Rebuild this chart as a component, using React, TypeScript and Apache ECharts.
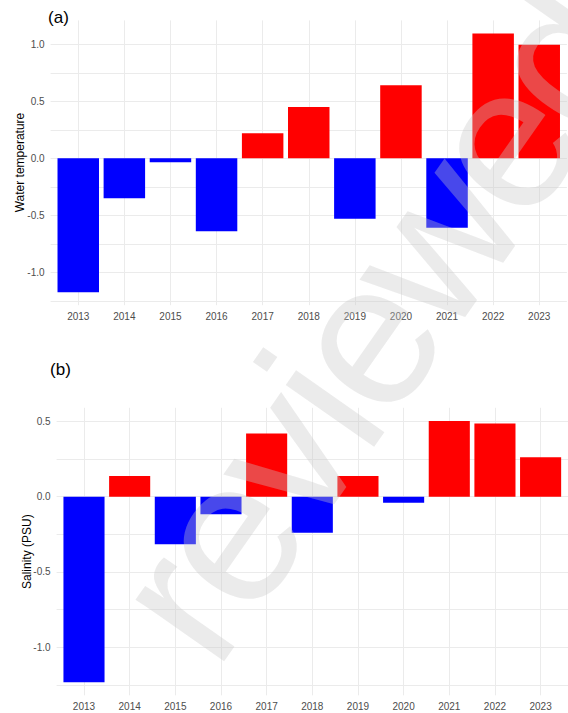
import React, { useEffect, useRef } from "react";
import * as echarts from "echarts";

const years = ["2013", "2014", "2015", "2016", "2017", "2018", "2019", "2020", "2021", "2022", "2023"];
const waterTemp = [-1.175, -0.35, -0.035, -0.64, 0.22, 0.45, -0.53, 0.64, -0.61, 1.096, 0.997];
const salinity = [-1.232, 0.137, -0.316, -0.117, 0.42, -0.239, 0.137, -0.04, 0.503, 0.485, 0.262];
const tempTicks = [-1.25, -1, -0.75, -0.5, -0.25, 0, 0.25, 0.5, 0.75, 1];
const tempLabels = [-1, -0.5, 0, 0.5, 1];
const salTicks = [-1.25, -1, -0.75, -0.5, -0.25, 0, 0.25, 0.5];
const salLabels = [-1, -0.5, 0, 0.5];
const panelTitles = ["(a)", "(b)"];
const axisTitles = ["Water temperature", "Salinity (PSU)"];
const watermark = "reviewed";

const FONT = "'Liberation Sans', Arial, Helvetica, sans-serif";
const GRID_COLOR = "#ebebeb";
const LABEL_COLOR = "#4d4d4d";

const idx = years.map((_, i) => i);

function xAxisFor(gridIndex: number) {
  return {
    type: "value",
    gridIndex,
    min: -0.6,
    max: 10.6,
    axisLine: { show: false },
    axisTick: { show: false, customValues: idx },
    axisLabel: {
      customValues: idx,
      formatter: (v: number) => years[Math.round(v)] ?? "",
      color: LABEL_COLOR,
      fontSize: 10,
      fontFamily: FONT,
      margin: 6,
    },
    splitLine: { show: true, lineStyle: { color: GRID_COLOR, width: 1 } },
  };
}

function yAxisFor(gridIndex: number, min: number, max: number, ticks: number[], labels: number[]) {
  return {
    type: "value",
    gridIndex,
    min,
    max,
    axisLine: { show: false },
    axisTick: { show: false, customValues: ticks },
    axisLabel: {
      customValues: labels,
      formatter: (v: number) => v.toFixed(1),
      color: LABEL_COLOR,
      fontSize: 10,
      fontFamily: FONT,
      margin: 6,
    },
    splitLine: { show: true, lineStyle: { color: GRID_COLOR, width: 1 } },
  };
}

function barSeries(values: number[], axisIndex: number) {
  return {
    type: "bar",
    xAxisIndex: axisIndex,
    yAxisIndex: axisIndex,
    barWidth: "90%",
    data: values.map((v, i) => ({
      value: [i, v],
      itemStyle: { color: v < 0 ? "#0000ff" : "#ff0000" },
    })),
  };
}

// Watermark: letters laid out along a rotated baseline
function watermarkElements() {
  const advances: Record<string, number> = { r: 0.333, e: 0.556, v: 0.5, i: 0.222, w: 0.722, d: 0.556 };
  const em = 188;
  const fontSize = 204;
  const theta = (55 * Math.PI) / 180;
  const ux = Math.cos(theta);
  const uy = -Math.sin(theta);
  const upx = -Math.sin(theta);
  const upy = -Math.cos(theta);
  const start = { x: 174, y: 640 };
  const shift = 0.087 * fontSize;
  let cum = 0;
  return watermark.split("").map((ch) => {
    const a = advances[ch] ?? 0.556;
    const d = (cum + a / 2) * em;
    cum += a;
    return {
      type: "text",
      x: start.x + d * ux + shift * upx,
      y: start.y + d * uy + shift * upy,
      rotation: theta,
      z: 100,
      silent: true,
      style: {
        text: ch,
        fontSize,
        fontFamily: FONT,
        fill: "rgba(200,200,200,0.36)",
        textAlign: "center",
        textVerticalAlign: "middle",
      },
    };
  });
}

export default function App() {
  const ref = useRef<HTMLDivElement>(null);
  useEffect(() => {
    if (!ref.current) return;
    const chart = echarts.init(ref.current, null, { renderer: "svg" });
    chart.setOption({
      animation: false,
      backgroundColor: "#ffffff",
      grid: [
        { left: 50.6, top: 20.4, width: 516.3, height: 284.8 },
        { left: 56.6, top: 407.8, width: 516.8, height: 287.5 },
      ],
      xAxis: [xAxisFor(0), xAxisFor(1)],
      yAxis: [
        yAxisFor(0, -1.289, 1.21, tempTicks, tempLabels),
        yAxisFor(1, -1.319, 0.59, salTicks, salLabels),
      ],
      series: [barSeries(waterTemp, 0), barSeries(salinity, 1)],
      graphic: [
        {
          type: "text",
          x: 58.5,
          y: 17.5,
          style: { text: panelTitles[0], fontSize: 17, fontFamily: FONT, fill: "#000", textAlign: "center", textVerticalAlign: "middle" },
        },
        {
          type: "text",
          x: 60.5,
          y: 369,
          style: { text: panelTitles[1], fontSize: 17, fontFamily: FONT, fill: "#000", textAlign: "center", textVerticalAlign: "middle" },
        },
        {
          type: "text",
          x: 19.5,
          y: 162.5,
          rotation: Math.PI / 2,
          style: { text: axisTitles[0], fontSize: 12, fontFamily: FONT, fill: "#000", textAlign: "center", textVerticalAlign: "middle" },
        },
        {
          type: "text",
          x: 26.7,
          y: 551.7,
          rotation: Math.PI / 2,
          style: { text: axisTitles[1], fontSize: 12, fontFamily: FONT, fill: "#000", textAlign: "center", textVerticalAlign: "middle" },
        },
        ...watermarkElements(),
      ],
    });
    return () => chart.dispose();
  }, []);
  return <div ref={ref} style={{ position: "fixed", left: 0, top: 0, width: 568, height: 713 }} />;
}
